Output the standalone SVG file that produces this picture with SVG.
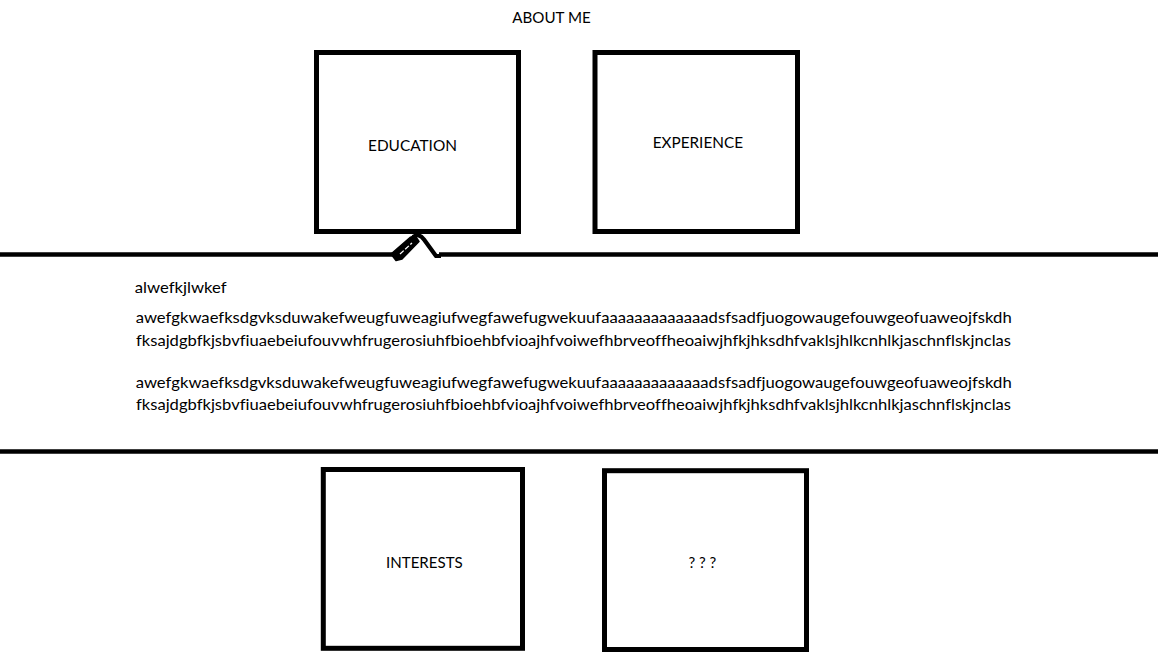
<svg xmlns="http://www.w3.org/2000/svg" width="1158" height="662" viewBox="0 0 1158 662">
<style>
  .box { fill: #ffffff; stroke: #000000; stroke-width: 5; }
  .lbl { font-family: "Lato", "Open Sans", "Liberation Sans", sans-serif; font-size: 15px; fill: #000000; font-variant-ligatures: none; }
  .body { font-family: "Lato", "Open Sans", "Liberation Sans", sans-serif; font-size: 15px; fill: #000000; font-variant-ligatures: none; }
  .rule { stroke: #000000; stroke-width: 4.5; fill: none; }
</style>
<rect x="0" y="0" width="1158" height="662" fill="#ffffff"/>

<text class="lbl" x="512.3" y="23.3" textLength="78.4" lengthAdjust="spacingAndGlyphs">ABOUT ME</text>

<g id="education">
  <rect class="box" x="316.5" y="52.5" width="202" height="179"/>
  <text class="lbl" x="368" y="151" textLength="89" lengthAdjust="spacingAndGlyphs">EDUCATION</text>
</g>

<g id="experience">
  <rect class="box" x="595" y="52.5" width="202.5" height="179"/>
  <text class="lbl" x="652.7" y="147.7" textLength="90.3" lengthAdjust="spacingAndGlyphs">EXPERIENCE</text>
</g>

<g id="connectors">
  <line class="rule" x1="0" y1="254.5" x2="396" y2="254.5"/>
  <line class="rule" x1="439" y1="254.5" x2="1158" y2="254.5"/>
  <line class="rule" x1="0" y1="451.5" x2="1158" y2="451.5"/>
  <path d="M391,254 L396,260.5 L402,259 L419,241.5 L415,235.5 L410,237.5 Z" fill="#000000" stroke="#000000" stroke-width="1.5" stroke-linejoin="round"/>
  <line x1="400" y1="254" x2="412" y2="243" stroke="#ffffff" stroke-width="1.3" stroke-dasharray="5 2"/>
  <path d="M413,237 Q419,232.5 424,239.5 L436,256 L441,256" fill="none" stroke="#000000" stroke-width="4.2" stroke-linejoin="round"/>
</g>

<g id="content">
  <text class="body" x="134.7" y="292.7" textLength="92" lengthAdjust="spacingAndGlyphs">alwefkjlwkef</text>
  <text class="body" x="135.7" y="323.3" textLength="876" lengthAdjust="spacingAndGlyphs">awefgkwaefksdgvksduwakefweugfuweagiufwegfawefugwekuufaaaaaaaaaaaaadsfsadfjuogowaugefouwgeofuaweojfskdh</text>
  <text class="body" x="136" y="346" textLength="875" lengthAdjust="spacingAndGlyphs">fksajdgbfkjsbvfiuaebeiufouvwhfrugerosiuhfbioehbfvioajhfvoiwefhbrveoffheoaiwjhfkjhksdhfvaklsjhlkcnhlkjaschnflskjnclas</text>
  <text class="body" x="135.7" y="387.7" textLength="876" lengthAdjust="spacingAndGlyphs">awefgkwaefksdgvksduwakefweugfuweagiufwegfawefugwekuufaaaaaaaaaaaaadsfsadfjuogowaugefouwgeofuaweojfskdh</text>
  <text class="body" x="136" y="410" textLength="875" lengthAdjust="spacingAndGlyphs">fksajdgbfkjsbvfiuaebeiufouvwhfrugerosiuhfbioehbfvioajhfvoiwefhbrveoffheoaiwjhfkjhksdhfvaklsjhlkcnhlkjaschnflskjnclas</text>
</g>

<g id="interests">
  <rect class="box" x="323.3" y="469.5" width="199.2" height="178.8"/>
  <text class="lbl" x="386" y="568.3" textLength="76.7" lengthAdjust="spacingAndGlyphs">INTERESTS</text>
</g>

<g id="unknown">
  <rect class="box" x="604.5" y="470.7" width="202" height="178.8"/>
  <text class="lbl" x="702.3" y="567.7" text-anchor="middle">? ? ?</text>
</g>
</svg>
